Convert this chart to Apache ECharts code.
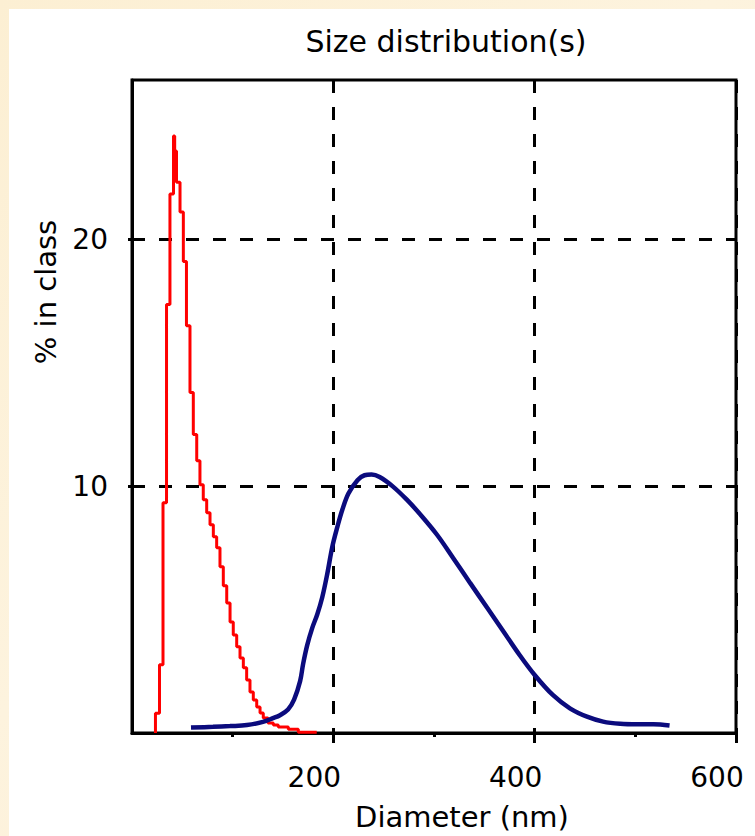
<!DOCTYPE html>
<html>
<head>
<meta charset="utf-8">
<title>Size distribution(s)</title>
<script src="https://cdn.jsdelivr.net/npm/echarts@6/dist/echarts.min.js"></script>
<style>
  html, body { margin: 0; padding: 0; width: 755px; height: 836px; overflow: hidden; }
  body { background: linear-gradient(135deg, #fcefd3 0%, #fdf3de 45%, #fbecd0 100%); position: relative; }
  #panel { position: absolute; left: 9px; top: 9px; right: 0; bottom: 0; background: #ffffff; }
  #chart { position: absolute; left: 0; top: 0; width: 755px; height: 836px; }
</style>
</head>
<body>
<div id="panel"></div>
<div id="chart"></div>
<script>
// Histogram of the first sample: left edge of each class (nm) and % in class
const redBinStart = [23.3, 23.3, 27.3, 30.8, 34.3, 37.7, 41.2, 42.4, 44.2, 47.7, 51.0, 54.1, 57.6, 60.9,
  64.3, 67.5, 70.8, 74.2, 77.5, 80.8, 84.1, 87.4, 90.7, 94.1, 97.4, 100.6, 104.0, 107.3, 110.6,
  113.9, 117.2, 120.5, 123.9, 127.2, 130.4, 135.1, 140.4, 145.3, 155.3, 165.2, 183.5];
const redPercent = [0, 0.8, 2.76, 9.33, 17.36, 21.83, 24.18, 23.57, 22.31, 21.1, 19.1, 16.5, 13.79, 12.09,
  11.03, 10.06, 9.45, 8.92, 8.44, 7.95, 7.5, 6.73, 5.96, 5.27, 4.5, 3.97, 3.49, 3.04, 2.64,
  2.15, 1.66, 1.34, 1.05, 0.81, 0.61, 0.41, 0.32, 0.24, 0.15, 0.03, 0.03];

// Smooth distribution of the second sample
const blueDiameter = [58.6, 80.5, 97.3, 114.2, 130.1, 140, 147, 155, 161, 167, 170, 174, 179, 184, 189,
  194, 199, 204, 209, 215, 224, 231, 238, 246, 259, 273, 286, 303, 319, 336, 353, 369, 385,
  400, 418, 435, 452, 468, 485, 502, 518, 534];
const bluePercent = [0.22, 0.25, 0.28, 0.32, 0.45, 0.6, 0.72, 0.95, 1.35, 2.1, 2.8, 3.55, 4.25, 4.8, 5.5,
  6.45, 7.55, 8.35, 9.05, 9.7, 10.24, 10.44, 10.47, 10.37, 9.99, 9.45, 8.87, 8.03, 7.09, 6.07,
  5.06, 4.11, 3.16, 2.35, 1.54, 1.0, 0.66, 0.46, 0.37, 0.35, 0.35, 0.3];

// Axis ticks and labels
const xTickValues = [200, 400, 600];
const yTickValues = [10, 20];
const chartTitle = 'Size distribution(s)';
const xTitle = 'Diameter (nm)';
const yTitle = '% in class';

const FONT = '"DejaVu Sans", "Liberation Sans", sans-serif';

const chart = echarts.init(document.getElementById('chart'), null, { renderer: 'svg', width: 755, height: 836 });

chart.setOption({
  animation: false,
  backgroundColor: 'transparent',
  grid: {
    left: 132, top: 80, width: 604, height: 653,
    containLabel: false, outerBoundsMode: 'none',
    show: true, borderColor: '#000', borderWidth: 3, backgroundColor: 'transparent'
  },
  xAxis: {
    type: 'value', min: 0, max: 600, interval: 200,
    axisLine: { show: true, lineStyle: { color: '#000', width: 3 } },
    axisTick: { show: true, customValues: xTickValues, length: 10, lineStyle: { color: '#000', width: 3 } },
    minorTick: { show: true, splitNumber: 2, length: 4, lineStyle: { color: '#000', width: 3 } },
    axisLabel: {
      customValues: xTickValues, color: '#000', fontFamily: FONT, fontSize: 28,
      margin: 30, padding: [0, 38, 0, 0], lineHeight: 28
    },
    splitLine: {
      show: true,
      lineStyle: { color: '#000', width: 3, type: [13, 14] }
    }
  },
  yAxis: {
    type: 'value', min: 0, max: 26.45, interval: 10,
    axisLine: { show: true, lineStyle: { color: '#000', width: 3 } },
    axisTick: { show: true, customValues: yTickValues, length: 4, lineStyle: { color: '#000', width: 3 } },
    axisLabel: { customValues: yTickValues, color: '#000', fontFamily: FONT, fontSize: 28, margin: 24 },
    splitLine: {
      show: true,
      lineStyle: { color: '#000', width: 3, type: [13, 14] }
    }
  },
  graphic: [
    { type: 'text', x: 446, y: 41, style: { text: chartTitle, font: '30px ' + FONT, fill: '#000', align: 'center', verticalAlign: 'middle' } },
    { type: 'text', x: 462, y: 817, style: { text: xTitle, font: '29px ' + FONT, fill: '#000', align: 'center', verticalAlign: 'middle' } },
    { type: 'text', x: 46, y: 292, rotation: Math.PI / 2, style: { text: yTitle, font: '29px ' + FONT, fill: '#000', align: 'center', verticalAlign: 'middle' } }
  ],
  series: [
    {
      name: 'sample 1', type: 'line', step: 'end', symbol: 'none',
      data: redBinStart.map((d, i) => [d, redPercent[i]]),
      lineStyle: { color: '#ff0000', width: 3 }, z: 3
    },
    {
      name: 'sample 2', type: 'line', smooth: 0.35, symbol: 'none',
      data: blueDiameter.map((d, i) => [d, bluePercent[i]]),
      lineStyle: { color: '#0b0b7d', width: 4.5 }, z: 4
    }
  ]
});
</script>
</body>
</html>
